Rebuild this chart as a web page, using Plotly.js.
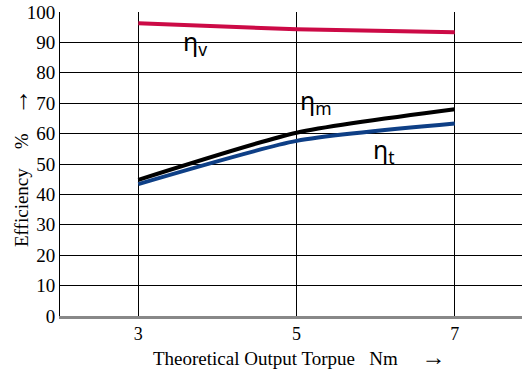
<!DOCTYPE html>
<html>
<head>
<meta charset="utf-8">
<script src="https://cdn.plot.ly/plotly-3.0.1.min.js"></script>
<style>html,body{margin:0;padding:0;background:#fff;}#chart{width:522px;height:374px;}</style>
</head>
<body>
<div id="chart"></div>
<script>
const torque = [3, 5, 7];
const etaV = [96.3, 94.3, 93.3];
const etaM = [44.8, 60.3, 68.0];
const etaT = [43.4, 57.6, 63.3];
const xTicks = [3, 5, 7];
const yTicks = [0, 10, 20, 30, 40, 50, 60, 70, 80, 90, 100];
const xTitle = 'Theoretical Output Torpue   Nm     <span style="font-size:24px">→</span>';
const yTitle = 'Efficiency    %    <span style="font-size:26px">→</span>';

const serif = 'Liberation Serif';
const traces = [
  {x: torque, y: etaV, mode: 'lines', line: {color: '#cc0a46', width: 4, shape: 'spline', smoothing: 0.6}, name: 'ηv'},
  {x: torque, y: etaT, mode: 'lines', line: {color: '#0e3f86', width: 4, shape: 'spline', smoothing: 0.6}, name: 'ηt'},
  {x: torque, y: etaM, mode: 'lines', line: {color: '#000000', width: 4, shape: 'spline', smoothing: 0.6}, name: 'ηm'}
];
const annFont = {family: 'Noto Sans', size: 25, color: '#000'};
const titleFont = {family: serif, size: 19, color: '#000'};
const layout = {
  width: 522, height: 374,
  margin: {l: 60, r: 0, t: 12, b: 58},
  paper_bgcolor: '#fff', plot_bgcolor: '#fff',
  font: {family: serif, size: 18, color: '#000'},
  showlegend: false,
  xaxis: {
    range: [2.01, 7.85], tickvals: xTicks, ticktext: xTicks.map(String),
    showgrid: true, gridcolor: '#000', gridwidth: 1,
    showline: true, linecolor: '#888', linewidth: 2.5,
    zeroline: false, ticks: '',
    tickfont: {family: serif, size: 18, color: '#000'}
  },
  yaxis: {
    range: [0, 100], tickvals: yTicks, ticktext: yTicks.map(String),
    showgrid: true, gridcolor: '#000', gridwidth: 1,
    showline: true, linecolor: '#000', linewidth: 1,
    zeroline: false, ticks: '',
    tickfont: {family: serif, size: 19, color: '#000'}
  },
  annotations: [
    {x: 3.72, y: 90, text: 'η<sub>v</sub>', showarrow: false, font: annFont},
    {x: 5.25, y: 70.5, text: 'η<sub>m</sub>', showarrow: false, font: annFont},
    {x: 6.1, y: 54.5, text: 'η<sub>t</sub>', showarrow: false, font: annFont},
    {xref: 'paper', yref: 'paper', x: (299 - 60) / 462, y: -(357 - 316) / 304, xanchor: 'center', yanchor: 'middle',
     text: xTitle, showarrow: false, font: titleFont},
    {xref: 'paper', yref: 'paper', x: (20 - 60) / 462, y: (316 - 168) / 304, xanchor: 'center', yanchor: 'middle',
     text: yTitle, textangle: -90, showarrow: false, font: titleFont}
  ]
};
Plotly.newPlot('chart', traces, layout, {displayModeBar: false, staticPlot: true});
</script>
</body>
</html>
